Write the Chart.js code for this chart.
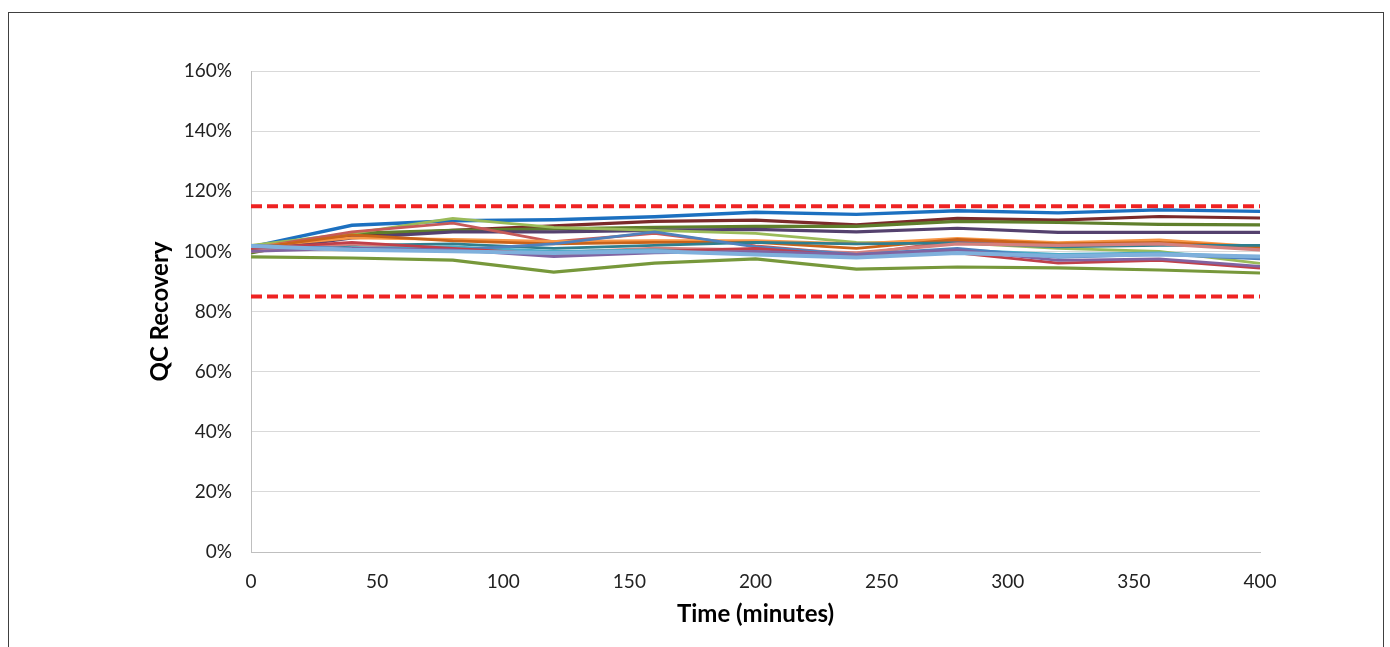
<!DOCTYPE html>
<html>
<head>
<meta charset="utf-8">
<script src="https://cdn.jsdelivr.net/npm/chart.js@4"></script>
<style>
  html, body { margin: 0; padding: 0; background: #fff; }
  #frame {
    position: absolute; left: 8px; top: 12px;
    width: 1376px; height: 660px;
    border: 1px solid #404040; box-sizing: border-box;
  }
  #wrap { position: absolute; left: 0; top: 0; width: 1390px; height: 647px; }
</style>
</head>
<body>
<div id="frame"></div>
<div id="wrap"><canvas id="qcChart"></canvas></div>
<script>
// time points (minutes)
const times = [0, 40, 80, 120, 160, 200, 240, 280, 320, 360, 400];

// QC recovery per analyte, in %
const seriesBlue     = [101.5, 108.7, 110.2, 110.5, 111.5, 113.0, 112.3, 113.5, 112.8, 113.8, 113.3];
const seriesMaroon   = [100.5, 105.0, 107.0, 108.5, 110.0, 110.4, 108.8, 111.0, 110.4, 111.6, 111.1];
const seriesOlive    = [ 99.5, 106.0, 107.0, 107.5, 108.0, 108.3, 108.3, 110.0, 109.6, 109.0, 108.8];
const seriesPurple   = [100.0, 104.5, 106.5, 106.5, 107.0, 107.3, 106.5, 107.7, 106.3, 106.3, 106.3];
const seriesLtGreen  = [102.0, 106.0, 111.0, 108.0, 107.0, 106.0, 103.0, 102.8, 101.0, 100.0,  96.0];
const seriesPinkRed  = [101.0, 106.5, 109.4, 103.2, 106.0, 101.8,  99.0, 103.5, 102.0, 102.5, 101.0];
const seriesOrange   = [101.5, 104.5, 104.0, 103.3, 103.6, 103.6, 102.5, 104.3, 102.9, 103.8, 101.6];
const seriesDkOrange = [101.0, 105.5, 103.5, 102.5, 103.0, 103.0, 101.0, 104.0, 102.5, 103.0, 101.5];
const seriesTeal     = [101.0, 102.0, 102.5, 101.0, 102.0, 103.0, 102.5, 102.8, 101.5, 102.0, 102.0];
const seriesLtBlue   = [101.5, 101.0, 101.5, 100.0, 100.5,  99.5,  98.5, 100.5,  99.0,  99.5,  98.0];
const seriesSteel    = [102.0, 101.0, 100.5, 102.5, 106.5, 101.5,  99.0, 101.0,  98.0,  99.0,  97.5];
const seriesLavender = [100.0, 101.0, 100.5,  98.3,  99.5, 100.0,  99.0, 100.5,  97.0,  97.5,  95.0];
const seriesPink     = [100.0, 102.5, 100.5,  99.5, 101.0, 100.5,  99.5, 102.5, 102.0, 102.5, 100.5];
const seriesRed      = [101.0, 103.0, 101.0,  99.0, 100.0, 101.0,  98.5,  99.5,  96.1,  97.0,  94.4];
const seriesSky      = [101.8, 100.5, 100.0,  99.5, 100.0,  99.0,  98.0,  99.5,  98.5,  99.0,  98.3];
const seriesGreen    = [ 98.2,  97.8,  97.1,  93.1,  96.1,  97.5,  94.1,  94.8,  94.5,  93.8,  92.8];

// acceptance limits (%)
const upperLimit = [115, 115];
const lowerLimit = [85, 85];
const limitTimes = [0, 400];

const yTicks = [0, 20, 40, 60, 80, 100, 120, 140, 160];
const xTicks = [0, 50, 100, 150, 200, 250, 300, 350, 400];

function toPoints(xs, ys) {
  return ys.map((y, i) => ({ x: xs[i], y: y }));
}

function line(data, color, width = 2.8) {
  return {
    data: toPoints(times, data),
    borderColor: color,
    backgroundColor: color,
    borderWidth: width,
    pointRadius: 0,
    tension: 0,
    fill: false
  };
}

function limit(data) {
  return {
    data: toPoints(limitTimes, data),
    borderColor: "#EE2222",
    borderWidth: 4,
    borderDash: [11, 5],
    pointRadius: 0,
    fill: false
  };
}

const datasets = [
  line(seriesSky, "#7FB0DC", 4),
  line(seriesLavender, "#8064A2"),
  line(seriesRed, "#C0404A"),
  line(seriesSteel, "#4F81BD"),
  line(seriesLtBlue, "#4BACC6"),
  line(seriesPink, "#D4807E", 3.4),
  line(seriesTeal, "#2F7E8E"),
  line(seriesDkOrange, "#C9631A"),
  line(seriesOrange, "#F79646"),
  line(seriesPinkRed, "#C65A58"),
  line(seriesLtGreen, "#9BBB59"),
  line(seriesPurple, "#54416E", 3.2),
  line(seriesOlive, "#5F7F2C", 3.2),
  line(seriesMaroon, "#7B2A2A", 3.2),
  line(seriesBlue, "#1C70C0", 3.4),
  line(seriesGreen, "#77983B", 3.2),
  limit(upperLimit),
  limit(lowerLimit)
];

const font = "Lato, 'Open Sans', sans-serif";

new Chart(document.getElementById("qcChart"), {
  type: "line",
  data: { datasets },
  options: {
    responsive: true,
    maintainAspectRatio: false,
    animation: false,
    layout: { padding: { left: 140, right: 130, top: 71, bottom: 10 } },
    plugins: { legend: { display: false }, tooltip: { enabled: false } },
    scales: {
      x: {
        type: "linear",
        min: 0,
        max: 400,
        afterBuildTicks: (s) => { s.ticks = xTicks.map(v => ({ value: v })); },
        afterFit: (s) => { s.height = 85; },
        grid: { display: false, drawTicks: false },
        border: { display: true, color: "#BFBFBF", width: 1 },
        ticks: { color: "#222", font: { family: font, size: 19 }, padding: 18, maxRotation: 0 },
        title: {
          display: true,
          text: "Time (minutes)",
          color: "#000",
          font: { family: font, size: 24, weight: "bold" },
          padding: { top: 0, bottom: 8 }
        }
      },
      y: {
        min: 0,
        max: 160,
        afterBuildTicks: (s) => { s.ticks = yTicks.map(v => ({ value: v })); },
        afterFit: (s) => { s.width = 111; },
        grid: { color: "#D9D9D9", lineWidth: 1, drawTicks: false },
        border: { display: true, color: "#BFBFBF", width: 1 },
        ticks: {
          color: "#222",
          font: { family: font, size: 19 },
          padding: 19,
          callback: (v) => v + "%"
        },
        title: {
          display: true,
          text: "QC Recovery",
          color: "#000",
          font: { family: font, size: 24, weight: "bold" },
          padding: { top: 6, bottom: 0 }
        }
      }
    }
  }
});
</script>
</body>
</html>
